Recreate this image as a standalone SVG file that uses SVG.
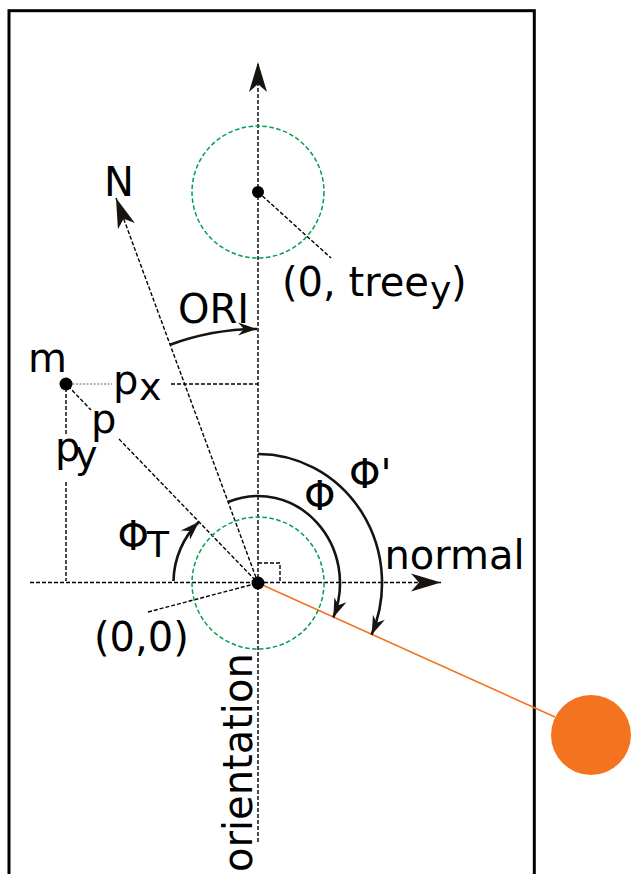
<svg xmlns="http://www.w3.org/2000/svg" width="632" height="874" viewBox="0 0 632 874">
  <defs>
    <style>
      .frame { fill: none; stroke: #000; stroke-width: 3; }
      .dash { fill: none; stroke: #000; stroke-width: 1.4; stroke-dasharray: 4 2; }
      .dot-grey { fill: none; stroke: #666; stroke-width: 1.2; stroke-dasharray: 2 1.5; }
      .green { fill: none; stroke: #009e4f; stroke-width: 1.5; stroke-dasharray: 4.5 2.5; }
      .arc { fill: none; stroke: #17130f; stroke-width: 2.6; }
      .orange { fill: none; stroke: #f47321; stroke-width: 1.6; }
      .pt { fill: #000; }
      text { font-family: "DejaVu Sans", "Liberation Sans", sans-serif; font-size: 40px; fill: #000; }
    </style>
    <marker id="bigArrow" viewBox="-32 -11 34 22" refX="0" refY="0" markerWidth="34" markerHeight="22" markerUnits="userSpaceOnUse" orient="auto" overflow="visible">
      <path d="M0,0 L-30,-9 L-22,0 L-30,9 Z" fill="#17130f"/>
    </marker>
    <marker id="smallArrow" viewBox="-20 -8 22 16" refX="0" refY="0" markerWidth="22" markerHeight="16" markerUnits="userSpaceOnUse" orient="auto" overflow="visible">
      <path d="M0,0 L-19,-6.5 L-13,0 L-19,6.5 Z" fill="#17130f"/>
    </marker>
  </defs>

  <rect class="frame" x="9" y="10.7" width="525.3" height="880"/>

  <g id="connectors">
    <line class="dash" x1="258" y1="842" x2="258" y2="62" marker-end="url(#bigArrow)"/>
    <line class="dash" x1="30" y1="582.5" x2="441" y2="582.5" marker-end="url(#bigArrow)"/>
    <line class="dash" x1="258" y1="583" x2="116" y2="198" marker-end="url(#bigArrow)"/>
    <line class="dash" x1="258" y1="192" x2="331" y2="258"/>
    <line class="dash" x1="148" y1="612" x2="258" y2="583"/>
    <line class="dot-grey" x1="69" y1="384" x2="112" y2="384"/>
    <line class="dash" x1="171" y1="384" x2="258" y2="384"/>
    <line class="dash" x1="66" y1="388" x2="66" y2="436"/>
    <line class="dash" x1="66" y1="482" x2="66" y2="581"/>
    <line class="dash" x1="68" y1="386" x2="91" y2="410"/>
    <line class="dash" x1="119" y1="439" x2="258" y2="583"/>
    <path class="dash" d="M258,563 H280 V583"/>
    <line class="orange" x1="258" y1="583" x2="555" y2="717"/>
    <path class="arc" d="M170.1,344.7 A254,254 0 0 1 257,329" marker-end="url(#smallArrow)"/>
    <path class="arc" d="M173.5,581 A85,85 0 0 1 199,521.8" marker-end="url(#smallArrow)"/>
    <path class="arc" d="M228.1,502 A82,87 0 0 1 333.3,617.4" marker-end="url(#smallArrow)"/>
    <path class="arc" d="M258,454 A124,129 0 0 1 371.6,634.8" marker-end="url(#smallArrow)"/>
  </g>

  <g id="tree">
    <circle class="green" cx="258" cy="192" r="66"/>
    <circle class="pt" cx="258" cy="192" r="6"/>
  </g>

  <g id="origin">
    <circle class="green" cx="258" cy="583" r="66"/>
    <circle class="pt" cx="258" cy="583" r="6.5"/>
  </g>

  <g id="m">
    <circle class="pt" cx="66" cy="384" r="6.5"/>
  </g>

  <g id="target">
    <circle cx="591" cy="735" r="40" fill="#f47321"/>
  </g>

  <g id="labels">
    <text x="104" y="196">N</text>
    <text x="178" y="323">ORI</text>
    <text><tspan x="282" y="296">(0, tree</tspan><tspan x="430" y="302" font-size="36">y</tspan><tspan x="451" y="296">)</tspan></text>
    <text x="28" y="372">m</text>
    <text><tspan x="113" y="394">p</tspan><tspan x="139" y="400" font-size="38">x</tspan></text>
    <text x="91" y="433">p</text>
    <text><tspan x="55" y="461">p</tspan><tspan x="75" y="468" font-size="38">y</tspan></text>
    <text><tspan x="117.5" y="550">Φ</tspan><tspan x="147" y="557" font-size="36">T</tspan></text>
    <text x="304" y="510">Φ</text>
    <text x="349" y="488">Φ'</text>
    <text x="384.4" y="569">normal</text>
    <text x="94" y="651">(0,0)</text>
    <text transform="translate(251.7,872) rotate(-90)">orientation</text>
  </g>
</svg>
